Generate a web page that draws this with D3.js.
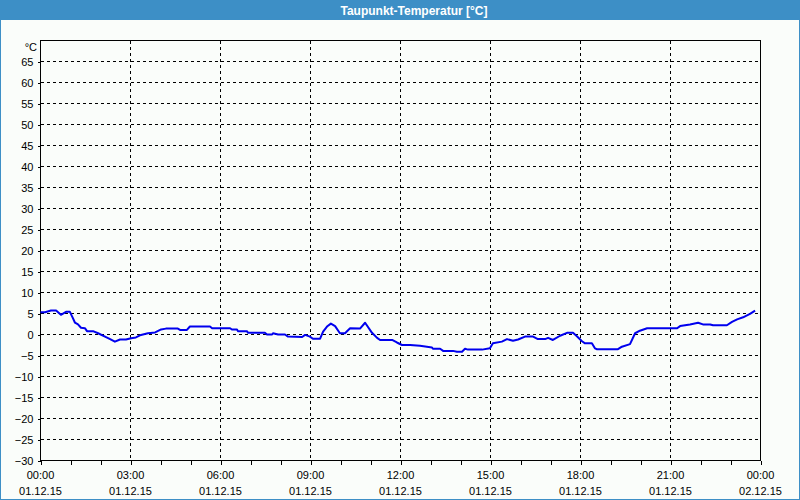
<!DOCTYPE html>
<html>
<head>
<meta charset="utf-8">
<script src="https://cdn.jsdelivr.net/npm/d3@7/dist/d3.min.js"></script>
<style>
html,body{margin:0;padding:0;background:#fff;}
svg{display:block;}
text{font-family:"Liberation Sans",Arial,sans-serif;}
</style>
</head>
<body>
<svg id="chart" width="800" height="500"></svg>
<script>
const title = "Taupunkt-Temperatur [°C]";
const unitLabel = "°C";
const yTicks = [-30,-25,-20,-15,-10,-5,0,5,10,15,20,25,30,35,40,45,50,55,60,65];
const xTickHours = [0,3,6,9,12,15,18,21,24];
const xTimeLabels = ["00:00","03:00","06:00","09:00","12:00","15:00","18:00","21:00","00:00"];
const xDateLabels = ["01.12.15","01.12.15","01.12.15","01.12.15","01.12.15","01.12.15","01.12.15","01.12.15","02.12.15"];
// time of day in hours
const hours = [0.0,0.15,0.35,0.52,0.68,0.85,0.98,1.08,1.15,1.25,1.35,1.48,1.55,1.75,1.92,2.15,2.32,2.48,2.65,2.85,3.02,3.18,3.35,3.58,3.82,4.02,4.18,4.58,4.65,4.88,4.98,5.65,5.72,6.32,6.38,6.55,6.58,6.88,6.92,7.48,7.55,7.72,7.75,7.92,8.15,8.25,8.72,8.82,8.98,9.08,9.32,9.42,9.55,9.68,9.82,9.98,10.15,10.32,10.65,10.82,11.05,11.22,11.32,11.72,11.88,12.05,12.32,12.65,13.05,13.08,13.32,13.42,13.75,13.88,14.05,14.15,14.25,14.72,14.98,15.08,15.38,15.55,15.75,15.92,16.15,16.42,16.58,16.82,16.92,17.08,17.32,17.55,17.75,17.88,18.05,18.15,18.38,18.48,18.55,19.25,19.38,19.65,19.82,19.98,20.22,21.22,21.32,21.65,21.92,22.08,22.32,22.42,22.88,23.05,23.22,23.42,23.65,23.82];
// dew point in °C
const dewPoint = [5.3,5.3,5.7,5.7,4.7,5.4,5.4,3.9,2.8,2.4,1.6,1.5,0.8,0.8,0.3,-0.5,-1.1,-1.7,-1.2,-1.2,-0.9,-0.7,-0.1,0.3,0.5,1.2,1.4,1.4,1.1,1.1,1.9,1.9,1.5,1.5,1.2,1.2,0.8,0.8,0.4,0.4,0.0,0.0,0.3,0.0,0.0,-0.5,-0.6,-0.1,-0.5,-1.0,-1.0,0.7,1.9,2.6,2.0,0.3,0.3,1.5,1.4,2.8,0.4,-0.8,-1.3,-1.3,-1.9,-2.5,-2.5,-2.7,-3.1,-3.4,-3.4,-3.9,-3.9,-4.1,-4.1,-3.4,-3.6,-3.6,-3.3,-2.1,-1.7,-1.1,-1.5,-1.2,-0.5,-0.5,-1.1,-1.1,-0.8,-1.3,-0.3,0.4,0.4,-0.4,-1.6,-2.1,-2.1,-3.3,-3.5,-3.5,-2.9,-2.3,0.3,0.9,1.5,1.5,2.0,2.4,2.8,2.4,2.4,2.2,2.2,3.0,3.6,4.1,4.9,5.7];

const svg = d3.select("#chart");
const W = 800, H = 500;
const BLUE = "#3d8fc6";

// background & frame
svg.append("rect").attr("x",0).attr("y",0).attr("width",W).attr("height",H).attr("fill","#fafdfa");
svg.append("rect").attr("x",0.5).attr("y",0.5).attr("width",W-1).attr("height",H-1)
  .attr("fill","none").attr("stroke",BLUE).attr("stroke-width",1);
svg.append("rect").attr("x",0).attr("y",0).attr("width",W).attr("height",20).attr("fill",BLUE);
svg.append("text").attr("x",414).attr("y",14.5).attr("text-anchor","middle")
  .attr("fill","#fff").attr("font-size","12px").attr("font-weight","bold").text(title);

const x = d3.scaleLinear().domain([0,24]).range([40.5,760.5]);
const y = d3.scaleLinear().domain([-30,70]).range([460.5,40.5]);

const g = svg.append("g");

// horizontal grid
g.selectAll(".hg").data(yTicks.filter(v=>v>-30)).enter().append("line")
  .attr("x1",x(0)).attr("x2",x(24)).attr("y1",d=>y(d)).attr("y2",d=>y(d))
  .attr("stroke","#000").attr("stroke-dasharray","3,3").attr("shape-rendering","crispEdges");
// vertical grid
g.selectAll(".vg").data(xTickHours.filter(h=>h>0&&h<24)).enter().append("line")
  .attr("x1",d=>x(d)).attr("x2",d=>x(d)).attr("y1",y(70)).attr("y2",y(-30))
  .attr("stroke","#000").attr("stroke-dasharray","3,3").attr("shape-rendering","crispEdges");

// frame
g.append("rect").attr("x",x(0)).attr("y",y(70)).attr("width",x(24)-x(0)).attr("height",y(-30)-y(70))
  .attr("fill","none").attr("stroke","#000").attr("shape-rendering","crispEdges");

// axes
const yAxis = d3.axisLeft(y).tickValues(yTicks).tickSize(3).tickFormat(d3.format("d"));
const ya = g.append("g").attr("transform",`translate(${x(0)},0)`).call(yAxis);
ya.select(".domain").remove();
ya.selectAll("text").attr("font-size","11px").attr("fill","#000").attr("dx","-1").attr("dy","0.35em").attr("y",0);
ya.selectAll("line").attr("shape-rendering","crispEdges");
g.append("text").attr("x",37).attr("y",y(70)+10).attr("text-anchor","end").attr("font-size","11px").text(unitLabel);

const xAxis = d3.axisBottom(x).ticks(24).tickSize(4).tickFormat("");
const xa = g.append("g").attr("transform",`translate(0,${y(-30)})`).call(xAxis);
xa.select(".domain").remove();
xa.selectAll("line").attr("shape-rendering","crispEdges");

g.selectAll(".xt").data(xTickHours).enter().append("text")
  .attr("x",d=>x(d)).attr("y",478.5).attr("text-anchor","middle").attr("font-size","11px")
  .text((d,i)=>xTimeLabels[i]);
g.selectAll(".xd").data(xTickHours).enter().append("text")
  .attr("x",d=>x(d)).attr("y",494.5).attr("text-anchor","middle").attr("font-size","11px")
  .text((d,i)=>xDateLabels[i]);

// line
const pts = hours.map((h,i)=>[h,dewPoint[i]]);
const line = d3.line().x(d=>x(d[0])).y(d=>y(d[1]));
g.append("path").datum(pts).attr("d",line).attr("fill","none")
  .attr("stroke","#0000ee").attr("stroke-width",2).attr("stroke-linejoin","round");
</script>
</body>
</html>
